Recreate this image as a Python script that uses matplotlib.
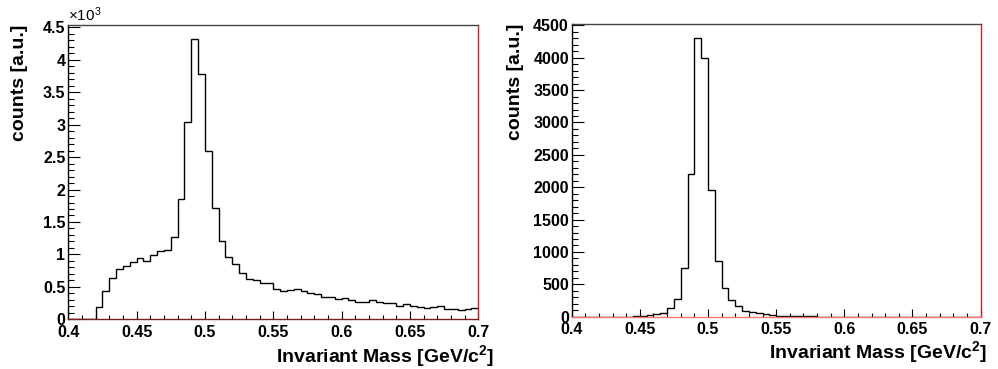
import numpy as np
import matplotlib
matplotlib.use("Agg")
import matplotlib.pyplot as plt
from matplotlib.ticker import MultipleLocator, FuncFormatter

plt.rcParams['font.family'] = ['Liberation Sans', 'DejaVu Sans']
plt.rcParams['mathtext.fontset'] = 'custom'
plt.rcParams['mathtext.rm'] = 'Liberation Sans'
plt.rcParams['mathtext.bf'] = 'Liberation Sans:bold'
plt.rcParams['mathtext.default'] = 'regular'

# histogram binning: 60 bins from 0.4 to 0.7 GeV/c^2
edges = np.linspace(0.4, 0.7, 61)

# left: all candidates (counts)
counts_all = [0, 0, 0, 0, 190, 440, 630, 770, 820, 880,
              950, 905, 985, 1055, 1070, 1270, 1850, 3040, 4320, 3780,
              2590, 1720, 1205, 960, 855, 715, 620, 600, 557, 562,
              474, 443, 448, 464, 430, 400, 387, 340, 350, 310,
              325, 300, 272, 270, 300, 260, 250, 250, 200, 232,
              200, 190, 180, 185, 200, 165, 165, 150, 165, 170]

# right: after selection (counts)
counts_sel = [0, 0, 0, 0, 0, 0, 0, 0, 0, 5,
              10, 20, 36, 60, 128, 277, 745, 2204, 4305, 3988,
              1958, 861, 446, 256, 169, 87, 72, 51, 36, 26,
              15, 12, 9, 7, 5, 4, 3, 2, 2, 2,
              1, 1, 1, 1, 1, 1, 0, 0, 0, 0,
              0, 0, 0, 0, 0, 0, 0, 0, 0, 0]

xlabel = r"Invariant Mass [GeV/c$^{\mathbf{2}}$]"
ylabel = "counts [a.u.]"

fig = plt.figure(figsize=(9.98, 3.69), dpi=100)
ax1 = fig.add_axes([0.0684, 0.1347, 0.4108, 0.7976])
ax2 = fig.add_axes([0.5728, 0.1417, 0.4098, 0.7932])


def style_axes(ax, counts, bottom_col, yfmt):
    ax.stairs(counts, edges, color='black', lw=1.0, baseline=None)
    ax.set_xlim(0.4, 0.7)
    ax.set_ylim(0, max(counts) * 1.05)
    ax.xaxis.set_major_locator(MultipleLocator(0.05))
    ax.xaxis.set_minor_locator(MultipleLocator(0.01))
    ax.yaxis.set_major_locator(MultipleLocator(500))
    ax.yaxis.set_minor_locator(MultipleLocator(100))
    ax.xaxis.set_major_formatter(FuncFormatter(lambda v, p: f"{v:g}"))
    ax.yaxis.set_major_formatter(FuncFormatter(yfmt))
    ax.tick_params(axis='x', which='major', direction='in', length=6, width=0.8,
                   labelsize=11.5, pad=4)
    ax.tick_params(axis='x', which='minor', direction='in', length=3, width=0.8)
    ax.tick_params(axis='y', which='major', direction='in', length=8.6, width=0.8,
                   labelsize=11.5, pad=2)
    ax.tick_params(axis='y', which='minor', direction='in', length=4.3, width=0.8)
    for lab in ax.get_xticklabels() + ax.get_yticklabels():
        lab.set_fontweight('bold')
    ax.spines['top'].set_color('#444444')
    ax.spines['left'].set_color('black')
    ax.spines['right'].set_color('#cc2222')
    ax.spines['bottom'].set_color(bottom_col)
    for s in ax.spines.values():
        s.set_linewidth(1.0)
    ax.set_xlabel(xlabel, fontsize=14, fontweight='bold', ha='right')
    ax.set_ylabel(ylabel, fontsize=14, fontweight='bold', ha='right')


style_axes(ax1, counts_all, '#7a1f1f', lambda v, p: f"{v / 1000:g}")
ax1.xaxis.set_label_coords(1.04, -0.08)
ax1.yaxis.set_label_coords(-0.098, 1.0)
ax1.text(0.0, 1.005, r"$\times$10$^{3}$", transform=ax1.transAxes, fontsize=11,
         ha='left', va='bottom')

style_axes(ax2, counts_sel, '#ff7777', lambda v, p: f"{v:g}")
ax2.xaxis.set_label_coords(1.017, -0.078)
ax2.yaxis.set_label_coords(-0.117, 1.0)

fig.savefig("out.png", dpi=100, facecolor='white')
